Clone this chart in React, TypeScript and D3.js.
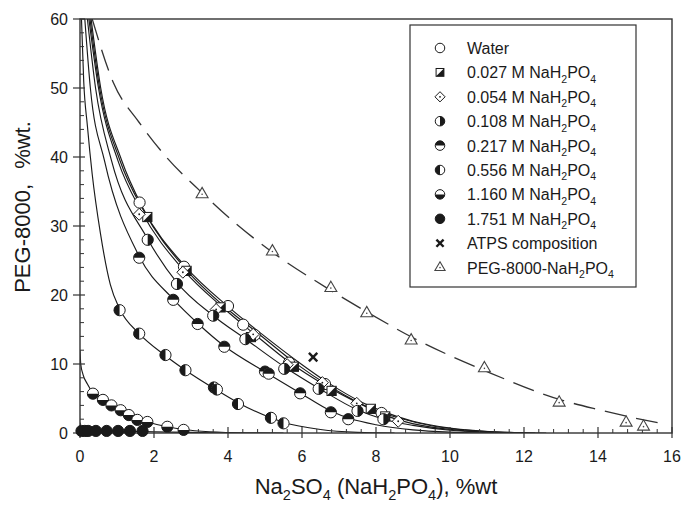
import * as d3 from 'd3';

// axes
const xTicks = [0, 2, 4, 6, 8, 10, 12, 14, 16];
const yTicks = [0, 10, 20, 30, 40, 50, 60];

// measured points
const waterPts = [[1.61, 33.4], [2.81, 24.1], [4.0, 18.4], [4.41, 15.7], [4.72, 14.2], [5.65, 10.2], [6.62, 7.1], [8.15, 2.9]];
const m027Pts = [[1.82, 31.3], [2.88, 23.5], [3.8, 18.2], [4.62, 13.9], [5.78, 9.6], [6.8, 6.1], [7.86, 3.5], [8.25, 2.4]];
const m054Pts = [[1.6, 31.7], [2.78, 23.3], [3.68, 17.9], [4.68, 14.3], [5.6, 9.9], [6.55, 7.3], [7.48, 4.3], [8.6, 1.7]];
const m108Pts = [[1.83, 28.0], [2.62, 21.6], [3.6, 17.0], [4.47, 13.6], [5.52, 9.3], [6.45, 6.4], [7.5, 3.2], [8.2, 2.0]];
const m217Pts = [[1.6, 25.4], [2.52, 19.3], [3.18, 15.8], [3.9, 12.5], [5.0, 8.9], [5.1, 8.6], [5.95, 5.75], [6.78, 3.0], [7.25, 2.0]];
const m556Pts = [[1.07, 17.8], [1.6, 14.4], [2.31, 11.3], [2.85, 9.1], [3.62, 6.6], [3.7, 6.3], [4.27, 4.2], [5.16, 2.2], [5.5, 1.4]];
const m1160Pts = [[0.35, 5.7], [0.62, 4.8], [0.85, 4.0], [1.1, 3.3], [1.32, 2.6], [1.55, 1.9], [1.82, 1.6], [2.36, 0.9], [2.8, 0.45]];
const m1751Pts = [[0.04, 0.3], [0.13, 0.3], [0.22, 0.3], [0.43, 0.3], [0.72, 0.3], [1.03, 0.3], [1.35, 0.3], [1.69, 0.3]];
const atpsPts = [[6.3, 11.0]];
const pegPts = [[3.3, 34.6], [5.2, 26.3], [6.78, 21.0], [7.75, 17.35], [8.95, 13.4], [10.93, 9.37], [12.95, 4.4], [14.76, 1.5], [15.23, 0.92]];

// fitted binodal curves
const waterFit = [[0.3, 60], [0.56, 50], [1.12, 39.6], [1.7, 32.6], [2.85, 24.1], [4.05, 18.1], [4.9, 14.4], [5.9, 10.3], [6.7, 7.3], [7.6, 4.5], [8.2, 3.1], [9, 1.7], [10, 0.7], [11, 0.22], [12, 0.04], [12.6, 0]];
const m027Fit = [[0.27, 60], [0.53, 50], [1.08, 39.5], [1.72, 32.2], [2.85, 23.8], [4.0, 17.9], [4.8, 14.5], [5.8, 10.2], [6.8, 6.6], [7.85, 3.6], [8.6, 2.2], [9.5, 1.05], [10.5, 0.4], [11.5, 0.1], [12.3, 0]];
const m054Fit = [[0.24, 60], [0.5, 50], [1.03, 39.4], [1.65, 32.2], [2.8, 23.6], [3.9, 18.0], [4.7, 14.4], [5.7, 10.1], [6.6, 7.0], [7.5, 4.4], [8.6, 1.9], [9.5, 0.85], [10.5, 0.28], [11.5, 0.05], [12.1, 0]];
const m108Fit = [[0.2, 60], [0.42, 50], [0.85, 39.5], [1.82, 28.2], [2.62, 21.8], [3.6, 17.0], [4.48, 13.6], [5.55, 9.5], [6.45, 6.5], [7.48, 3.4], [8.2, 2.0], [9, 1.1], [10, 0.4], [11, 0.1], [12, 0]];
const m217Fit = [[0.13, 60], [0.28, 50], [0.66, 39.5], [1.6, 25.6], [2.52, 19.4], [3.2, 15.8], [3.9, 12.6], [5.05, 8.7], [5.95, 5.8], [6.78, 3.2], [7.3, 2.1], [8, 1.2], [9, 0.45], [10, 0.12], [11, 0]];
const m556Fit = [[0.04, 60], [0.1, 51], [0.2, 44.5], [0.33, 37.5], [0.55, 29], [0.82, 21.5], [1.07, 18], [1.6, 14.4], [2.31, 11.2], [2.85, 9.1], [3.64, 6.4], [4.27, 4.4], [5.16, 2.2], [5.5, 1.55], [6.5, 0.5], [7.5, 0.1], [8.5, 0]];
const m1160Fit = [[0, 12], [0.02, 10], [0.08, 8.5], [0.2, 7.1], [0.35, 5.8], [0.62, 4.75], [0.85, 4.0], [1.1, 3.25], [1.32, 2.65], [1.55, 2.05], [1.82, 1.6], [2.36, 0.9], [2.8, 0.5], [3.5, 0.18], [4.5, 0.03], [5.5, 0]];
const m1751Fit = [[0, 1.5], [0.03, 0.6], [0.2, 0.38], [1, 0.28], [2, 0.18], [3, 0.08], [4, 0]];
const pegFit = [[0.33, 60], [0.9, 50.8], [1.6, 45], [2.3, 40.2], [3.3, 34.8], [4.2, 30.4], [5.2, 26.2], [6.8, 20.6], [7.8, 17.4], [9, 13.8], [11, 8.9], [13, 4.8], [14, 3.4], [14.8, 2.4], [15.8, 1.3]];

const labels = ['Water', '0.027 M NaH{2}PO{4}', '0.054 M NaH{2}PO{4}', '0.108 M NaH{2}PO{4}', '0.217 M NaH{2}PO{4}',
  '0.556 M NaH{2}PO{4}', '1.160 M NaH{2}PO{4}', '1.751 M NaH{2}PO{4}', 'ATPS composition', 'PEG-8000-NaH{2}PO{4}'];
const kinds = ['open', 'square', 'diamond', 'right', 'top', 'left', 'bottom', 'full', 'cross', 'tri'];
const allPts = [waterPts, m027Pts, m054Pts, m108Pts, m217Pts, m556Pts, m1160Pts, m1751Pts, atpsPts, pegPts];
const solidFits = [waterFit, m027Fit, m054Fit, m108Fit, m217Fit, m556Fit, m1160Fit, m1751Fit];

const FONT = '"Liberation Sans", Arial, Helvetica, sans-serif';
const INK = '#1a1a1a';

const arc = d3.arc();
const halves = {
  right: [0, Math.PI],
  left: [Math.PI, 2 * Math.PI],
  top: [-Math.PI / 2, Math.PI / 2],
  bottom: [Math.PI / 2, 1.5 * Math.PI],
};

function Marker({ kind, cx, cy, s }) {
  const r = 5.6 * s;
  if (kind === 'open') return <circle cx={cx} cy={cy} r={r} fill="#fff" stroke={INK} strokeWidth={1} />;
  if (kind === 'full') return <circle cx={cx} cy={cy} r={r} fill={INK} stroke={INK} strokeWidth={1} />;
  if (halves[kind]) {
    const [a0, a1] = halves[kind];
    return (
      <g transform={`translate(${cx},${cy})`}>
        <circle r={r} fill="#fff" stroke={INK} strokeWidth={1} />
        <path d={arc({ innerRadius: 0, outerRadius: r, startAngle: a0, endAngle: a1 })} fill={INK} />
      </g>
    );
  }
  if (kind === 'square') {
    const h = 4.6 * s;
    return (
      <g transform={`translate(${cx},${cy})`}>
        <rect x={-h} y={-h} width={2 * h} height={2 * h} fill="#fff" stroke={INK} strokeWidth={1} />
        <path d={`M${h},${-h}L${h},${h}L${-h},${h}Z`} fill={INK} />
      </g>
    );
  }
  if (kind === 'diamond') {
    const h = 6 * s;
    return (
      <g transform={`translate(${cx},${cy})`}>
        <path d={`M0,${-h}L${h},0L0,${h}L${-h},0Z`} fill="#fff" stroke={INK} strokeWidth={1} />
        <circle r={0.9} fill={INK} />
      </g>
    );
  }
  if (kind === 'cross') {
    const h = 4.2 * s;
    return (
      <g transform={`translate(${cx},${cy})`} stroke={INK} strokeWidth={2.4}>
        <line x1={-h} y1={-h} x2={h} y2={h} />
        <line x1={-h} y1={h} x2={h} y2={-h} />
      </g>
    );
  }
  // triangle
  const tri = d3.symbol().type(d3.symbolTriangle).size(62 * s * s)();
  return (
    <g transform={`translate(${cx},${cy})`}>
      <path d={tri} fill="#fff" stroke="#444" strokeWidth={1.1} />
      <circle r={0.8} fill="#444" />
    </g>
  );
}

function Rich({ s, size }) {
  const parts = s.split(/\{(\d)\}/);
  const out = [];
  let shifted = false;
  const sh = size * 0.28;
  parts.forEach((p, i) => {
    if (i % 2 === 1) {
      out.push(<tspan key={i} dy={sh} fontSize={size * 0.66}>{p}</tspan>);
      shifted = true;
    } else if (p) {
      out.push(<tspan key={i} dy={shifted ? -sh : 0}>{p}</tspan>);
      shifted = false;
    }
  });
  return <>{out}</>;
}

export default function App() {
  const x = d3.scaleLinear().domain([0, 16]).range([80, 672]);
  const y = d3.scaleLinear().domain([0, 60]).range([433, 19]);
  const line = d3.line().x((d) => x(d[0])).y((d) => y(d[1])).curve(d3.curveMonotoneX);

  const xMinor = d3.range(0, 16.001, 0.4).filter((v) => Math.abs(v / 2 - Math.round(v / 2)) > 0.01);
  const yMinor = d3.range(0, 60.001, 2).filter((v) => v % 10 !== 0);

  const [x0, x1] = x.range();
  const [y0, y1] = y.range();

  return (
    <svg width={682} height={506} style={{ position: 'absolute', left: 0, top: 0, background: '#fff' }} fontFamily={FONT}>
      <defs>
        <clipPath id="plot">
          <rect x={x0} y={y1} width={x1 - x0} height={y0 - y1} />
        </clipPath>
      </defs>

      <g clipPath="url(#plot)" fill="none">
        {solidFits.map((f, i) => (
          <path key={i} d={line(f)} stroke={INK} strokeWidth={1.15} />
        ))}
        <path d={line(pegFit)} stroke="#333" strokeWidth={1.3} strokeDasharray="22 10" />
      </g>

      {/* frame */}
      <rect x={x0} y={y1} width={x1 - x0} height={y0 - y1} fill="none" stroke="#333" strokeWidth={1.4} />

      {/* y axis */}
      {yTicks.map((t) => (
        <g key={t}>
          <line x1={x0 - 7} x2={x0 + 5} y1={y(t)} y2={y(t)} stroke="#333" strokeWidth={1.2} />
          <text x={x0 - 12} y={y(t) + 6} textAnchor="end" fontSize={16} fill={INK}>{t}</text>
        </g>
      ))}
      {yMinor.map((t) => (
        <line key={t} x1={x0} x2={x0 + 4} y1={y(t)} y2={y(t)} stroke="#333" strokeWidth={1} />
      ))}

      {/* x axis */}
      {xTicks.map((t) => (
        <g key={t}>
          <line x1={x(t)} x2={x(t)} y1={y0 - 6} y2={y0 + 5} stroke="#333" strokeWidth={1.2} />
          <text x={x(t)} y={y0 + 29} textAnchor="middle" fontSize={16} fill={INK}>{t}</text>
        </g>
      ))}
      {xMinor.map((t) => (
        <line key={t} x1={x(t)} x2={x(t)} y1={y0 - 4} y2={y0} stroke="#333" strokeWidth={1} />
      ))}

      {/* points */}
      {allPts.map((pts, i) =>
        pts.map((p, j) => <Marker key={`${i}-${j}`} kind={kinds[i]} cx={x(p[0])} cy={y(p[1])} s={1} />)
      )}

      {/* axis titles */}
      <text x={376} y={494} textAnchor="middle" fontSize={22} fill={INK}>
        <Rich s="Na{2}SO{4} (NaH{2}PO{4}), %wt" size={22} />
      </text>
      <text transform="translate(30,207) rotate(-90)" textAnchor="middle" fontSize={22} fill={INK} style={{ wordSpacing: '9px' }}>
        PEG-8000, %wt.
      </text>

      {/* legend */}
      <rect x={410} y={25} width={226} height={262} fill="#fff" stroke="#333" strokeWidth={1.2} />
      {labels.map((lab, i) => {
        const ly = 48 + i * 24.4;
        return (
          <g key={i}>
            <Marker kind={kinds[i]} cx={440} cy={ly} s={0.85} />
            <text x={467} y={ly + 6} fontSize={16} fill={INK}>
              <Rich s={lab} size={16} />
            </text>
          </g>
        );
      })}
    </svg>
  );
}
